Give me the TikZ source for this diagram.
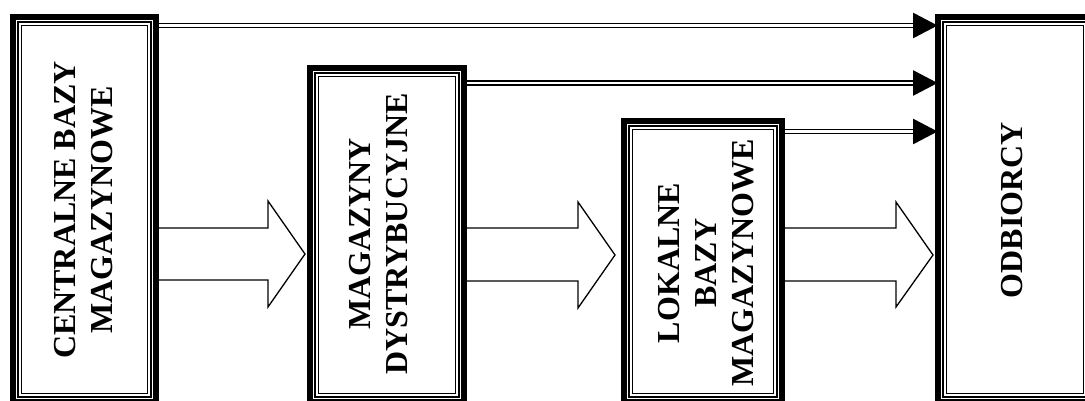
\documentclass[tikz,border=0pt]{standalone}
\usepackage{fontspec}
\setmainfont{Liberation Serif}
\usetikzlibrary{arrows.meta,calc}
\begin{document}
\begin{tikzpicture}[x=1pt,y=-1pt,
  boxshape/.style={draw, line width=6pt, rectangle, outer sep=0pt, inner sep=0pt},
  thinrule/.style={line width=1.2pt},
  lbl/.style={rotate=90, align=center, font=\fontsize{32}{37}\selectfont\bfseries, inner sep=0pt},
  blk/.style={line width=1.3pt, line join=miter},
  dbl/.style={line width=5.6pt, -{Triangle[length=25pt,width=24pt]}},
  dblgap/.style={line width=2.2pt, white}]
\useasboundingbox (0,0) rectangle (1085,400);
\fill[white] (0,0) rectangle (1085,400);
\clip (0,0) rectangle (1085,400);

% boxes (nodes)
\node[boxshape, minimum width=143pt, minimum height=385pt] (b1) at (84.5,209.5) {};
\node[boxshape, minimum width=154pt, minimum height=334pt] (b2) at (387,235) {};
\node[boxshape, minimum width=158pt, minimum height=281pt] (b3) at (703,261.5) {};
\node[boxshape, minimum width=154pt, minimum height=385pt] (b4) at (1015,209.5) {};

% block arrows
\draw[blk] (b1.east |- 0,228) -- (268,228) -- (268,201) -- ($(b2.west |- 0,254)+(-5,0)$)
  -- (268,307) -- (268,280) -- (b1.east |- 0,280);
\draw[blk] (b2.east |- 0,228) -- (578,228) -- (578,202) -- ($(b3.west |- 0,255)+(-9,0)$)
  -- (578,308) -- (578,281) -- (b2.east |- 0,281);
\draw[blk] (b3.east |- 0,228) -- (896,228) -- (896,202) -- ($(b4.west |- 0,255)+(-5,0)$)
  -- (896,307) -- (896,281) -- (b3.east |- 0,281);

% double-line arrows
\draw[dbl] (b1.east |- 0,25.5) -- (b4.west |- 0,25.5);
\draw[dblgap] (b1.east |- 0,25.5) -- ($(b4.west |- 0,25.5)+(-25,0)$);
\draw[dbl] (b2.east |- 0,83) -- (b4.west |- 0,83);
\draw[dblgap] (b2.east |- 0,83) -- ($(b4.west |- 0,83)+(-25,0)$);
\draw[dbl] (b3.east |- 0,131.5) -- (b4.west |- 0,131.5);
\draw[dblgap] (b3.east |- 0,131.5) -- ($(b4.west |- 0,131.5)+(-25,0)$);

% redraw box borders on top
\foreach \n in {b1,b2,b3,b4}{
  \draw[line width=6pt] (\n.north west) rectangle (\n.south east);
  \draw[thinrule] ($(\n.north west)+(5,5)$) rectangle ($(\n.south east)+(-5,-5)$);
  \draw[thinrule] ($(\n.north west)+(8.5,8.5)$) rectangle ($(\n.south east)+(-8.5,-8.5)$);
}

% labels
\node[lbl] (t1) at (84,210) {CENTRALNE BAZY\\MAGAZYNOWE};
\node[lbl] (t2) at (379,234) {MAGAZYNY\\DYSTRYBUCYJNE};
\node[lbl] (t3) at (706,263) {LOKALNE\\BAZY\\MAGAZYNOWE};
\node[lbl] (t4) at (1012,210) {ODBIORCY};
\end{tikzpicture}
\end{document}
